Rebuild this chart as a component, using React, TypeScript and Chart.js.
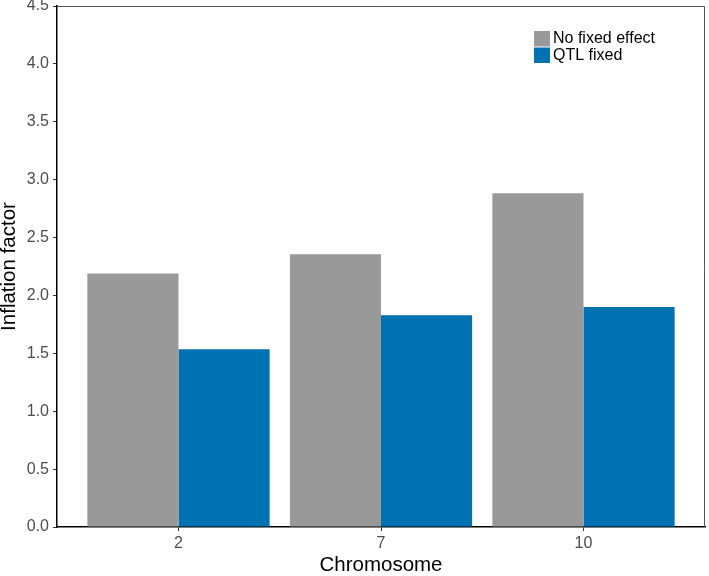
import React, { useEffect, useRef } from "react";
import { Chart, registerables } from "chart.js";

Chart.register(...registerables);

const categories = ["2", "7", "10"];
const seriesNames = ["No fixed effect", "QTL fixed"];
const noFixedEffect = [2.19, 2.355, 2.882];
const qtlFixed = [1.535, 1.828, 1.9];
const yTicks = [0, 0.5, 1, 1.5, 2, 2.5, 3, 3.5, 4, 4.5];
const colors = ["#999999", "#0072B2"];

const FONT = "'Liberation Sans', Arial, Helvetica, sans-serif";

const boxAndLegend = {
  id: "boxAndLegend",
  afterDraw(chart: any) {
    const { ctx, chartArea } = chart;
    ctx.save();
    // top and right panel lines
    ctx.strokeStyle = "#555555";
    ctx.lineWidth = 1;
    ctx.beginPath();
    ctx.moveTo(chartArea.left, chartArea.top + 0.5);
    ctx.lineTo(chartArea.right - 0.5, chartArea.top + 0.5);
    ctx.lineTo(chartArea.right - 0.5, chartArea.bottom);
    ctx.stroke();
    // legend
    const x0 = 534;
    const y0 = 31;
    const sz = 16;
    ctx.font = `16px ${FONT}`;
    ctx.textBaseline = "middle";
    ctx.textAlign = "left";
    seriesNames.forEach((name, i) => {
      const y = y0 + i * 16.5;
      ctx.fillStyle = colors[i];
      ctx.fillRect(x0, y, sz, 15.5);
      ctx.fillStyle = "#000000";
      ctx.fillText(name, x0 + sz + 3, y + 8);
    });
    ctx.restore();
  },
};

export default function App() {
  const ref = useRef<HTMLCanvasElement>(null);
  useEffect(() => {
    document.body.style.margin = "0";
    const canvas = ref.current!;
    const chart = new Chart(canvas, {
      type: "bar",
      data: {
        datasets: [
          {
            label: seriesNames[0],
            data: categories.map((_, i) => ({ x: i + 1, y: noFixedEffect[i] })),
            backgroundColor: colors[0],
            borderWidth: 0,
          },
          {
            label: seriesNames[1],
            data: categories.map((_, i) => ({ x: i + 1, y: qtlFixed[i] })),
            backgroundColor: colors[1],
            borderWidth: 0,
          },
        ],
      },
      options: {
        animation: false,
        responsive: false,
        maintainAspectRatio: false,
        layout: { padding: { top: 6, right: 4, left: 0, bottom: 0 } },
        plugins: { legend: { display: false }, tooltip: { enabled: false } },
        datasets: { bar: { categoryPercentage: 0.9, barPercentage: 1 } },
        scales: {
          x: {
            type: "linear",
            min: 0.4,
            max: 3.6,
            offset: false,
            afterBuildTicks: (scale: any) => {
              scale.ticks = categories.map((_, i) => ({ value: i + 1 }));
            },
            afterFit: (scale: any) => {
              scale.height = 49;
              scale.paddingLeft = 0;
              scale.paddingRight = 0;
            },
            ticks: {
              callback: (v: any) => categories[Number(v) - 1] ?? "",
              color: "#4d4d4d",
              font: { family: FONT, size: 16 },
              padding: 3,
              maxRotation: 0,
              autoSkip: false,
            },
            grid: {
              display: true,
              offset: false,
              drawOnChartArea: false,
              drawTicks: true,
              tickLength: 4,
              color: "#333333",
            },
            border: { display: true, color: "#000000", width: 1.5 },
            title: {
              display: true,
              text: "Chromosome",
              color: "#000000",
              font: { family: FONT, size: 20.5, lineHeight: 1 },
              padding: { top: 0, bottom: 0 },
            },
          },
          y: {
            type: "linear",
            min: 0,
            max: 4.5,
            afterBuildTicks: (scale: any) => {
              scale.ticks = yTicks.map((v) => ({ value: v }));
            },
            afterFit: (scale: any) => {
              scale.width = 57;
              scale.paddingTop = 0;
              scale.paddingBottom = 0;
            },
            ticks: {
              callback: (v: any) => Number(v).toFixed(1),
              color: "#4d4d4d",
              font: { family: FONT, size: 16 },
              padding: 4,
            },
            grid: {
              display: true,
              drawOnChartArea: false,
              drawTicks: true,
              tickLength: 4,
              color: "#333333",
            },
            border: { display: true, color: "#000000", width: 1.5 },
            title: {
              display: true,
              text: "Inflation factor",
              color: "#000000",
              font: { family: FONT, size: 20.5, lineHeight: 1 },
              padding: { top: -1, bottom: 0 },
            },
          },
        },
      },
      plugins: [boxAndLegend],
    } as any);
    return () => chart.destroy();
  }, []);
  return (
    <div style={{ width: 709, height: 576 }}>
      <canvas ref={ref} width={709} height={576} style={{ display: "block" }} />
    </div>
  );
}
